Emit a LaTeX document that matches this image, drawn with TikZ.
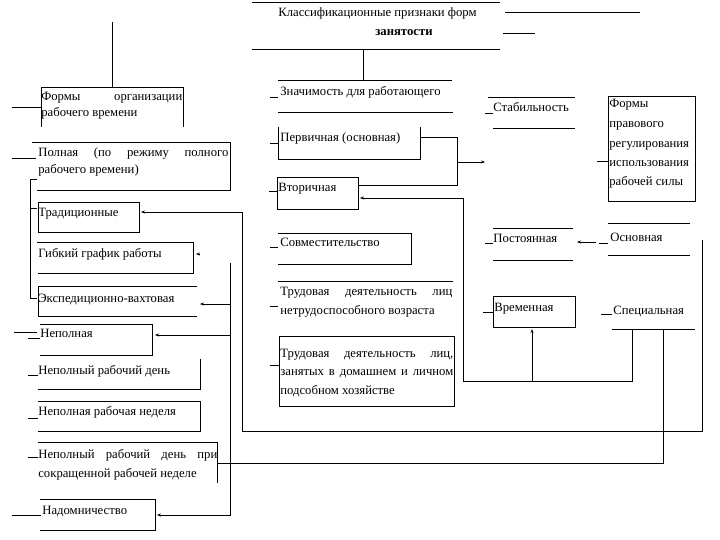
\documentclass[tikz,border=0pt]{standalone}
\usepackage{fontspec}
\setmainfont{Liberation Serif}
\usetikzlibrary{arrows.meta}
\newcommand{\jl}[2]{\hbox to #1pt{#2}}
\begin{document}
\begin{tikzpicture}[x=1pt,y=-1pt,line width=0.7pt,
  txt/.style={anchor=base west,inner sep=0pt,font=\fontsize{12.7}{18.5}\selectfont,align=left},
  arr/.style={-{Stealth[length=4pt,width=3pt]}}]
\useasboundingbox (0,0) rectangle (720,540);
\fill[white] (0,0) rectangle (720,540);

% ---------- texts (multi-line nodes: base = last line) ----------
\node[txt] (t1) at (278,17) {Классификационные признаки форм};
\node[txt,font=\fontsize{12.7}{18.5}\selectfont\bfseries] (t2) at (375,36) {занятости};
\node[txt,font=\fontsize{12.7}{16}\selectfont] (org) at (41,117) {\jl{141}{Формы\hfill организации}\\рабочего времени};
\node[txt,font=\fontsize{12.7}{17}\selectfont] (full) at (38,174) {\jl{190}{Полная\hfill (по\hfill режиму\hfill полного}\\рабочего времени)};
\node[txt] (trad) at (38,216) {Традиционные};
\node[txt] (flex) at (38,258) {Гибкий график работы};
\node[txt] (exp) at (38,302) {Экспедиционно-вахтовая};
\node[txt] (part) at (40,337) {Неполная};
\node[txt] (pday) at (38,374) {Неполный рабочий день};
\node[txt] (pweek) at (38,415) {Неполная рабочая неделя};
\node[txt] (pshort) at (38,477) {\jl{179}{Неполный\hfill рабочий\hfill день\hfill при}\\сокращенной рабочей неделе};
\node[txt] (home) at (42,514) {Надомничество};
\node[txt] (sig) at (280,96) {Значимость для работающего};
\node[txt] (prim) at (280,142) {Первичная (основная)};
\node[txt] (sec) at (278,192) {Вторичная};
\node[txt] (comb) at (280,247) {Совместительство};
\node[txt,font=\fontsize{12.7}{19}\selectfont] (dis) at (280,314) {\jl{172}{Трудовая\hfill деятельность\hfill лиц}\\нетрудоспособного возраста};
\node[txt] (dom) at (280,394) {\jl{173}{Трудовая\hfill деятельность\hfill лиц,}\\\jl{173}{занятых\hfill в\hfill домашнем\hfill и\hfill личном}\\подсобном хозяйстве};
\node[txt] (stab) at (493,112) {Стабильность};
\node[txt,font=\fontsize{12.7}{19.5}\selectfont] (legal) at (609,186) {Формы\\правового\\регулирования\\использования\\рабочей силы};
\node[txt] (perm) at (493,242) {Постоянная};
\node[txt] (main) at (610,241) {Основная};
\node[txt] (temp) at (494,311) {Временная};
\node[txt] (spec) at (613,314) {Специальная};

% ---------- title lines ----------
\draw (252,2) -- (500,2);
\draw (505,12) -- (640,12);
\draw (503,33) -- (535,33);
\draw (252,49) -- (500,49);
\draw (363,49) -- (363,80);
\draw (112,22) -- (112,87);

% ---------- left column frames ----------
\draw (41,127) -- (41,87) -- (183,87) -- (183,127);
\draw (32,142) -- (230,142) -- (230,190) -- (37,190);
\draw (38,202) rectangle (139,232);
\draw (37,242) -- (193,242) -- (193,273) -- (38,273);
\draw (197,286) -- (38,286) -- (38,316) -- (197,316);
\draw (40,324) -- (152,324) -- (152,355) -- (40,355);
\draw (200,359) -- (200,389) -- (38,389);
\draw (38,401) -- (200,401) -- (200,431) -- (38,431);
\draw (38,442) -- (217,442) -- (217,483);
\draw (40,499) -- (155,499) -- (155,530) -- (40,530);

% ---------- middle column frames ----------
\draw (278,80) -- (452,80);
\draw (278,112) -- (453,112);
\draw (278,127) -- (278,159) -- (420,159) -- (420,127);
\draw (277,177) rectangle (358,209);
\draw (278,233) -- (411,233) -- (411,264) -- (278,264);
\draw (278,281) -- (453,281);
\draw (279,336) rectangle (454,406);

% ---------- right column frames ----------
\draw (488,97) -- (575,97);
\draw (493,128) -- (575,128);
\draw (608,96) rectangle (695,201);
\draw (493,228) -- (573,228);
\draw (493,260) -- (573,260);
\draw (608,223) -- (690,223);
\draw (608,255) -- (690,255);
\draw (493,296) rectangle (575,327);
\draw (612,329) -- (695,329);

% ---------- short lead lines ----------
\draw (12,107) -- (41,107);
\draw (12,158) -- (36,158);
\draw (30,179) -- (37,179);
\draw (30,179) -- (30,298);
\draw (30,208) -- (37,208);
\draw (30,298) -- (37,298);
\draw (14,332) -- (37,332);
\draw (28,338) -- (40,338);
\draw (28,375) -- (38,375);
\draw (28,418) -- (38,418);
\draw (28,457) -- (38,457);
\draw (12,515) -- (41,515);
\draw (270,97) -- (278,97);
\draw (270,143) -- (278,143);
\draw (269,191) -- (277,191);
\draw (270,247) -- (278,247);
\draw (270,306) -- (278,306);
\draw (270,365) -- (279,365);
\draw (485,113) -- (493,113);
\draw (597,161) -- (608,161);
\draw (485,243) -- (493,243);
\draw (599,243) -- (608,243);
\draw (483,312) -- (493,312);
\draw (601,314) -- (612,314);

% ---------- connectors ----------
\coordinate (pr) at (420,137);
\coordinate (sr) at (358,185);
\coordinate (jn) at (457,162);
\coordinate (stabin) at (485,162);
\draw (pr) -- (457,137) -- (457,185) -- (sr);
\draw[arr] (jn) -- (stabin);

\coordinate (mainout) at (702,240);
\coordinate (tradin) at (141,212);
\draw[arr] (mainout) -- (702,431) -- (242,431) -- (242,212) -- (tradin);

\coordinate (specout) at (663,329);
\coordinate (pshortin) at (217,463);
\draw (specout) -- (663,463) -- (pshortin);

\coordinate (specout2) at (632,329);
\coordinate (secin) at (360,198);
\draw[arr] (specout2) -- (632,381) -- (463,381) -- (463,198) -- (secin);
\coordinate (tempin) at (532,329);
\draw[arr] (532,381) -- (tempin);

\coordinate (mainl) at (596,242);
\coordinate (permr) at (577,242);
\draw[arr] (mainl) -- (permr);

\coordinate (homein) at (157,515);
\coordinate (expin) at (200,304);
\coordinate (partin) at (155,335);
\draw[arr] (230,263) -- (230,515) -- (homein);
\draw[arr] (230,304) -- (expin);
\draw[arr] (230,335) -- (partin);
\coordinate (flexin) at (196,254);
\draw[arr] (200,254) -- (flexin);
\end{tikzpicture}
\end{document}
